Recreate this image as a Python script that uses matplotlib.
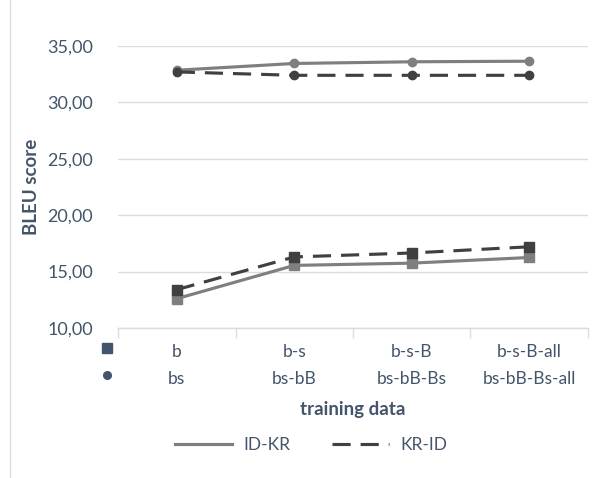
import matplotlib.pyplot as plt
import matplotlib.transforms as mtransforms
from matplotlib.lines import Line2D

plt.rcParams['font.family'] = ['Lato', 'DejaVu Sans']

# data
row_b = ["b", "b-s", "b-s-B", "b-s-B-all"]
row_bs = ["bs", "bs-bB", "bs-bB-Bs", "bs-bB-Bs-all"]
idkr_b = [12.6, 15.55, 15.75, 16.25]
krid_b = [13.4, 16.3, 16.65, 17.2]
idkr_bs = [32.85, 33.45, 33.6, 33.65]
krid_bs = [32.7, 32.4, 32.4, 32.4]
yticks = [10, 15, 20, 25, 30, 35]

txt = "#44546A"
grid = "#D9DCE3"
c_idkr = "#7F7F7F"
c_krid = "#404040"
dash = (0, (5.8, 3.2))

fig = plt.figure(figsize=(6.09, 4.78), dpi=100)
ax = fig.add_axes([0.1938, 0.3138, 0.7717, 0.59])
x = range(len(row_b))

ax.plot(x, idkr_b, color=c_idkr, lw=2.25, marker="s", ms=7)
ax.plot(x, krid_b, color=c_krid, lw=2.25, ls=dash, marker="s", ms=7)
ax.plot(x, idkr_bs, color=c_idkr, lw=2.25, marker="o", ms=6)
ax.plot(x, krid_bs, color=c_krid, lw=2.25, ls=dash, marker="o", ms=6)

ax.set_xlim(-0.5, 3.5)
ax.set_ylim(10, 35)
ax.set_yticks(yticks)
ax.set_yticklabels([f"{v:.2f}".replace(".", ",") for v in yticks], color=txt, fontsize=13)
ax.tick_params(axis="y", length=0, pad=18)
ax.yaxis.grid(True, color=grid, lw=1)
ax.set_axisbelow(True)
for s in ["top", "right", "left"]:
    ax.spines[s].set_visible(False)
ax.spines["bottom"].set_color(grid)
ax.spines["bottom"].set_linewidth(1)

ax.set_xticks([-0.5, 0.5, 1.5, 2.5, 3.5])
ax.set_xticklabels([])
ax.tick_params(axis="x", length=7, color=grid, width=1)

tr = mtransforms.blended_transform_factory(ax.transData, ax.transAxes)
for i in x:
    ax.text(i, -0.085, row_b[i], transform=tr, ha="center", va="center", color=txt, fontsize=12.5)
    ax.text(i, -0.181, row_bs[i], transform=tr, ha="center", va="center", color=txt, fontsize=12.5)
ax.plot([-0.594], [-0.07], marker="s", ms=7, color=txt, transform=tr, clip_on=False)
ax.plot([-0.594], [-0.168], marker="o", ms=5.5, color=txt, transform=tr, clip_on=False)

ax.text(0.5, -0.29, "training data", transform=ax.transAxes, ha="center", va="center",
        color=txt, fontsize=13.5, fontweight="bold")
ax.set_ylabel("BLEU score", color=txt, fontsize=13.5, fontweight="bold")
ax.yaxis.set_label_coords(-0.165, 0.5)

handles = [Line2D([], [], color=c_idkr, lw=2.25),
           Line2D([], [], color=c_krid, lw=2.25, ls=dash)]
leg = fig.legend(handles, ["ID-KR", "KR-ID"], loc="center", bbox_to_anchor=(311 / 609, 1 - 445 / 478),
                 ncol=2, frameon=False, fontsize=12.5, handlelength=3.3, handletextpad=0.65,
                 columnspacing=2.4)
for t in leg.get_texts():
    t.set_color(txt)

fig.add_artist(Line2D([10 / 609, 10 / 609], [0, 1], color=grid, lw=1))

fig.savefig("out.png")
